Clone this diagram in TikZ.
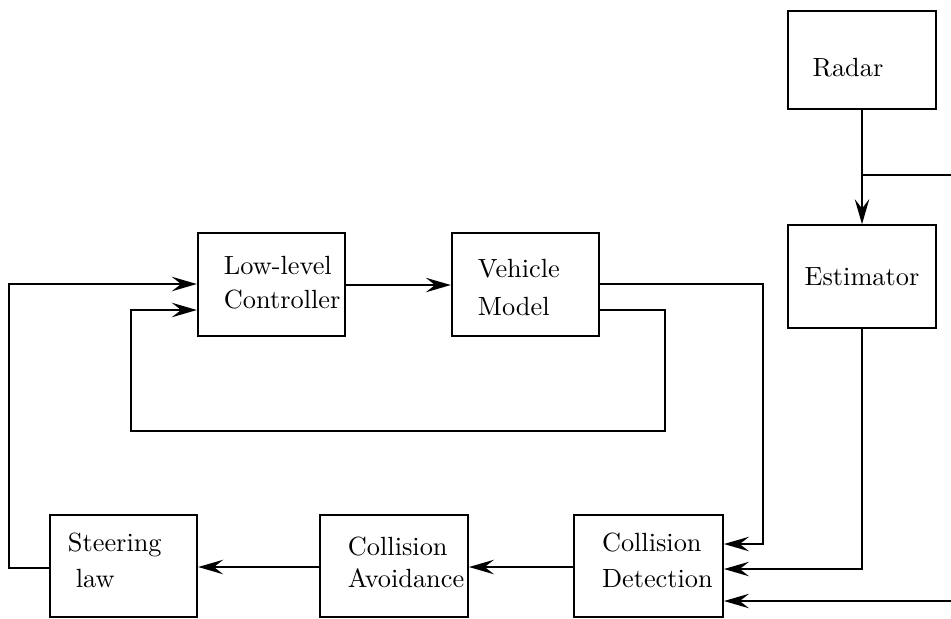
\documentclass[tikz,border=0pt]{standalone}
\usetikzlibrary{arrows.meta}
\begin{document}
\begin{tikzpicture}[x=0.38pt,y=-0.38pt,line width=0.75pt,
  block/.style={draw,rectangle,inner sep=0pt,minimum width=56pt,minimum height=39pt},
  txt/.style={inner sep=0pt,align=left,anchor=west},
  arr/.style={-{Stealth[length=9.5pt,width=5.5pt,inset=3.5pt]}}]
\useasboundingbox (0,0) rectangle (951,618);

% blocks
\node[block,minimum width=56.2pt,minimum height=37.2pt] (radar) at (862,60) {};
\node[block,minimum width=56.2pt] (est) at (862,276.5) {};
\node[block] (llc) at (271.5,284.5) {};
\node[block] (vm) at (525.5,284.5) {};
\node[block,minimum width=56.6pt,minimum height=38.8pt] (cd) at (648.5,566) {};
\node[block,minimum width=56.2pt,minimum height=38.8pt] (ca) at (394,566) {};
\node[block,minimum height=38.8pt] (sl) at (123.5,566) {};

% labels
\node[inner sep=0pt] (radar-t) at (848,68) {Radar};
\node[inner sep=0pt] (est-t) at (862,277) {Estimator};
\node[txt] (llc-t) at (223,283) {Low-level\\[0.9pt]Controller};
\node[txt] (vm-t) at (477,287.5) {Vehicle\\[2.8pt]Model};
\node[txt] (cd-t) at (601,560) {Collision\\[1.7pt]Detection};
\node[txt] (ca-t) at (347,562.5) {Collision\\[0pt]Avoidance};
\node[txt] (sl-t) at (67,560) {Steering\\[1.7pt]\hspace{3pt}law};

% free ends at the right border
\coordinate (radar-out) at (951,175);
\coordinate (ext-in) at (951,601);

% connectors
\draw[arr] (radar.south) -- (est.north);
\draw (radar.south |- radar-out) -- (radar-out);
\draw[arr] (est.south) |- (cd.east |- 0,569);
\draw[arr] (llc.east |- 0,285) -- (vm.west |- 0,285);
\draw[arr] (vm.east |- 0,284) -| (763,544) -- (cd.east |- 0,544);
\draw[arr] (vm.east |- 0,310) -| (665,431) -| (131,310) -- (llc.west |- 0,310);
\draw[arr] (sl.west |- 0,568) -| (9,284) -- (llc.west |- 0,284);
\draw[arr] (cd.west |- 0,567) -- (ca.east |- 0,567);
\draw[arr] (ca.west |- 0,567) -- (sl.east |- 0,567);
\draw[arr] (ext-in) -- (cd.east |- ext-in);
\end{tikzpicture}
\end{document}
